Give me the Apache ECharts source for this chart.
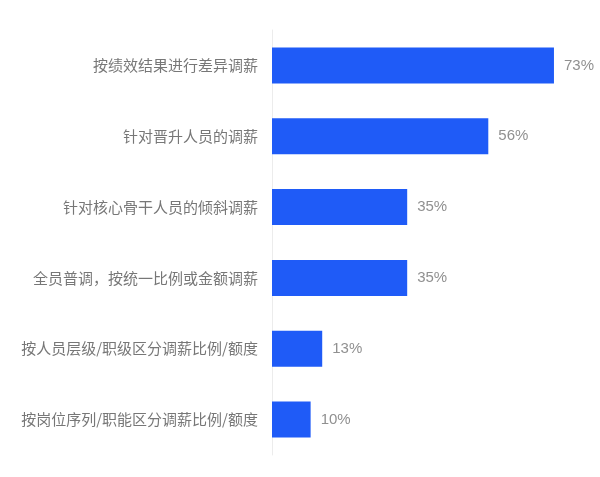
<!DOCTYPE html>
<html>
<head>
    <meta charset="utf-8">
    <title>调薪方式</title>
    <script src="https://cdn.jsdelivr.net/npm/echarts@6/dist/echarts.min.js"></script>
    <style>
        html, body { margin: 0; padding: 0; background: #fff; }
        #chart { width: 600px; height: 477px; }
    </style>
</head>
<body>
<div id="chart"></div>
<script>
    var categories = [
        '按绩效结果进行差异调薪',
        '针对晋升人员的调薪',
        '针对核心骨干人员的倾斜调薪',
        '全员普调，按统一比例或金额调薪',
        '按人员层级/职级区分调薪比例/额度',
        '按岗位序列/职能区分调薪比例/额度'
    ];
    var values = [73, 56, 35, 35, 13, 10];

    var chart = echarts.init(document.getElementById('chart'));
    chart.setOption({
        animation: false,
        grid: {
            left: 272,
            right: 19,
            top: 30,
            bottom: 22
        },
        xAxis: {
            type: 'value',
            min: 0,
            max: 80,
            show: false
        },
        yAxis: {
            type: 'category',
            inverse: true,
            data: categories,
            axisLine: { show: true, lineStyle: { color: '#ececec', width: 1 } },
            axisTick: { show: false },
            axisLabel: {
                color: '#777777',
                fontSize: 15,
                margin: 14,
                fontFamily: 'Noto Sans CJK SC'
            }
        },
        series: [{
            type: 'bar',
            data: values,
            barWidth: 36,
            itemStyle: { color: '#1f5bf7' },
            label: {
                show: true,
                position: 'right',
                distance: 10,
                formatter: '{c}%',
                color: '#909090',
                fontSize: 15,
                fontFamily: 'Liberation Sans'
            }
        }]
    });
</script>
</body>
</html>
